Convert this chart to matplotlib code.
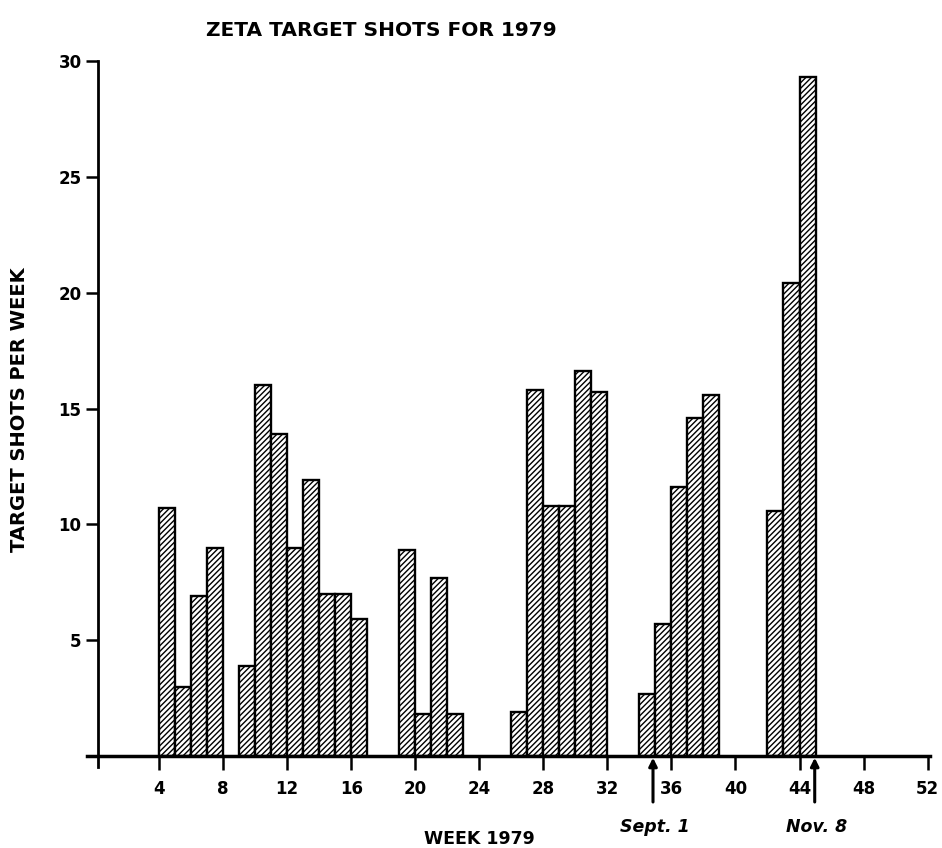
import matplotlib
matplotlib.use("Agg")
import matplotlib.pyplot as plt

# ---- data ----
weeks = [5, 6, 7, 8,
         10, 11, 12, 13, 14, 15, 16, 17,
         20, 21, 22, 23,
         27, 28, 29, 30, 31, 32,
         35, 36, 37, 38, 39,
         43, 44, 45]
shots = [10.7, 3.0, 6.9, 9.0,
         3.9, 16.0, 13.9, 9.0, 11.9, 7.0, 7.0, 5.9,
         8.9, 1.8, 7.7, 1.8,
         1.9, 15.8, 10.8, 10.8, 16.6, 15.7,
         2.7, 5.7, 11.6, 14.6, 15.6,
         10.6, 20.4, 29.3]
xticks = [4, 8, 12, 16, 20, 24, 28, 32, 36, 40, 44, 48, 52]
xticklabels = ["4", "8", "12", "16", "20", "24", "28", "32", "36", "40", "44", "48", "52"]
yticks = [5, 10, 15, 20, 25, 30]
markers = ["Sept. 1", "Nov. 8"]
marker_weeks = [34.85, 44.95]

plt.rcParams['font.family'] = ['DejaVu Sans']
plt.rcParams['hatch.linewidth'] = 1.0

fig = plt.figure(figsize=(9.42, 8.48), dpi=100)
ax = fig.add_axes([87/942, (848-767)/848, 843/942, (767-61)/848])

ax.bar([w - 0.5 for w in weeks], shots, width=1.0, color='white',
       edgecolor='black', linewidth=1.7, hatch='//////', zorder=2)

ax.set_xlim(-0.5, 52.15)
ax.set_ylim(-0.47, 30)

for s in ['top', 'right']:
    ax.spines[s].set_visible(False)
ax.spines['bottom'].set_position(('data', 0))
ax.spines['left'].set_position(('data', 0.2))
ax.spines['bottom'].set_linewidth(2.5)
ax.spines['left'].set_linewidth(2.0)
ax.spines['bottom'].set_zorder(3)

ax.set_xticks(xticks)
ax.set_xticklabels(xticklabels, fontsize=12, fontweight='bold')
ax.set_yticks(yticks)
ax.set_yticklabels([str(v) for v in yticks], fontsize=12, fontweight='bold')
ax.tick_params(axis='x', direction='out', length=10, width=1.8, pad=7)
ax.tick_params(axis='y', direction='out', length=9, width=1.8, pad=3)

fig.text(381/942, 1 - 30/848, "ZETA TARGET SHOTS FOR 1979", ha='center', va='center',
         fontsize=14.5, fontweight='bold')
fig.text(20/942, 1 - 410/848, "TARGET SHOTS PER WEEK", ha='center', va='center',
         rotation=90, fontsize=14, fontweight='bold')
fig.text(479/942, 1 - 839/848, "WEEK 1979", ha='center', va='center',
         fontsize=12.5, fontweight='bold')

for lab, wk in zip(markers, marker_weeks):
    ax.annotate("", xy=(wk, 0.05), xytext=(wk, -2.1),
                arrowprops=dict(arrowstyle='-|>', color='black', lw=2.2, mutation_scale=12),
                annotation_clip=False)
    ax.text(wk + 0.1, -3.05, lab, ha='center', va='center', fontsize=12.5,
            fontweight='bold', fontstyle='italic')

fig.savefig("out.png", dpi=100)
